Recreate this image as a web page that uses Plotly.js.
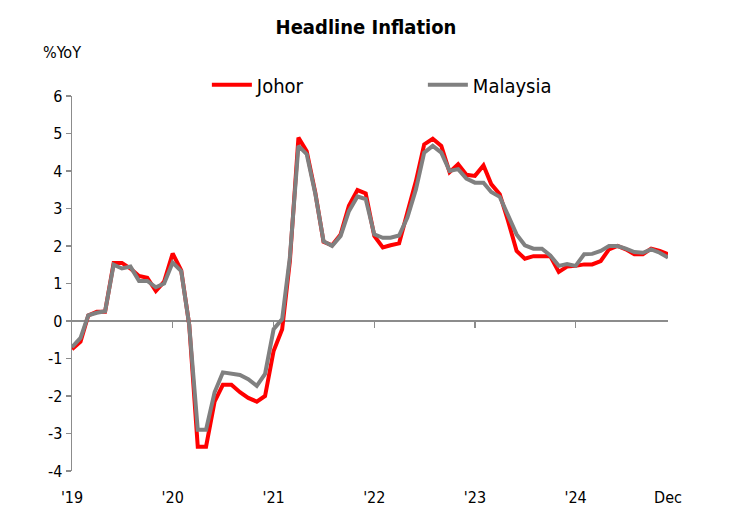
<!DOCTYPE html>
<html>
<head>
<meta charset="utf-8">
<script src="https://cdn.plot.ly/plotly-3.0.1.min.js"></script>
<style>
html,body{margin:0;padding:0;background:#fff;}
#chart{width:732px;height:519px;}
</style>
</head>
<body>
<div id="chart"></div>
<script>
// Monthly headline inflation, %YoY, Jan 2019 - Dec 2024
const years = [2019, 2020, 2021, 2022, 2023, 2024];
const johor = [
  -0.75, -0.55, 0.15, 0.25, 0.25, 1.55, 1.55, 1.4, 1.2, 1.15, 0.8, 1.05,
  1.8, 1.35, -0.1, -3.35, -3.35, -2.15, -1.7, -1.7, -1.9, -2.05, -2.15, -2.0,
  -0.8, -0.22, 1.6, 4.89, 4.53, 3.43, 2.11, 2.02, 2.31, 3.07, 3.49, 3.4,
  2.27, 1.96, 2.02, 2.07, 2.89, 3.73, 4.71, 4.86, 4.67, 3.97, 4.18, 3.9,
  3.87, 4.15, 3.65, 3.38, 2.67, 1.87, 1.66, 1.73, 1.73, 1.73, 1.31, 1.45,
  1.47, 1.51, 1.51, 1.6, 1.91, 2.0, 1.91, 1.78, 1.78, 1.93, 1.87, 1.78
];
const malaysia = [
  -0.7, -0.45, 0.15, 0.22, 0.26, 1.5, 1.4, 1.45, 1.07, 1.07, 0.9, 1.0,
  1.56, 1.33, -0.1, -2.9, -2.9, -1.9, -1.37, -1.41, -1.44, -1.55, -1.73, -1.41,
  -0.22, 0.05, 1.7, 4.67, 4.45, 3.4, 2.13, 2.0, 2.27, 2.93, 3.32, 3.25,
  2.31, 2.22, 2.22, 2.28, 2.76, 3.51, 4.49, 4.67, 4.49, 4.0, 4.05, 3.8,
  3.69, 3.69, 3.44, 3.31, 2.8, 2.31, 2.02, 1.93, 1.93, 1.75, 1.47, 1.52,
  1.47, 1.78, 1.79, 1.87, 2.0, 2.0, 1.93, 1.84, 1.82, 1.91, 1.82, 1.69
];
const xTickVals = ['2019-01-01','2020-01-01','2021-01-01','2022-01-01','2023-01-01','2024-01-01','2024-12-01'];
const xTickText = ["'19","'20","'21","'22","'23","'24","Dec"];
const yearTicks = ['2020-01-01','2021-01-01','2022-01-01','2023-01-01','2024-01-01'];
const yTickVals = [-4, -3, -2, -1, 0, 1, 2, 3, 4, 5, 6];
const yTickText = ['-4', '-3', '-2', '-1', '0', '1', '2', '3', '4', '5', '6'];

const months = [];
years.forEach(y => { for (let m = 1; m <= 12; m++) months.push(y + '-' + String(m).padStart(2,'0') + '-01'); });

const FONT = '"DejaVu Sans Condensed", "DejaVu Sans", sans-serif';
const AXC = '#8c8c8c';
const xr = [months[0], months[months.length-1]];

const traces = [
  {x: months, y: johor, name: 'Johor', type: 'scatter', mode: 'lines',
   line: {color: '#ff0000', width: 4}, xaxis: 'x', yaxis: 'y'},
  {x: months, y: malaysia, name: 'Malaysia', type: 'scatter', mode: 'lines',
   line: {color: '#808080', width: 4}, xaxis: 'x2', yaxis: 'y'}
];

const layout = {
  width: 732, height: 519,
  paper_bgcolor: '#fff', plot_bgcolor: '#fff',
  margin: {l: 72, r: 64, t: 96, b: 48},
  font: {family: FONT, color: '#000', size: 16},
  title: {text: '<b>Headline Inflation</b>', x: 0.5, xref: 'container', xanchor: 'center',
          y: 0.948, yref: 'container', yanchor: 'middle',
          font: {family: FONT, size: 20, color: '#000'}},
  xaxis: {type: 'date', range: xr, showline: false, showgrid: false, zeroline: false,
          ticks: '', tickmode: 'array', tickvals: xTickVals, ticktext: xTickText,
          ticklabelstandoff: 15, tickfont: {family: FONT, size: 16}},
  xaxis2: {type: 'date', range: xr, matches: 'x', overlaying: 'x', anchor: 'free', position: 0.4,
           showline: false, showgrid: false, zeroline: false, showticklabels: false,
           ticks: 'outside', ticklen: 6, tickwidth: 1.5, tickcolor: AXC,
           tickmode: 'array', tickvals: yearTicks},
  yaxis: {range: [-4, 6], tickmode: 'array', tickvals: yTickVals, ticktext: yTickText,
          showline: true, linecolor: AXC, linewidth: 1.5,
          ticks: 'outside', ticklen: 5, tickwidth: 1.5, tickcolor: AXC,
          showgrid: false, zeroline: true, zerolinecolor: AXC, zerolinewidth: 1.5,
          tickfont: {family: FONT, size: 16}},
  showlegend: true,
  legend: {orientation: 'h', x: 0.2263, xanchor: 'left', y: 1.03, yanchor: 'middle',
           font: {family: FONT, size: 20}, itemwidth: 40, entrywidth: 161,
           bgcolor: 'rgba(0,0,0,0)'},
  annotations: [
    {text: '%YoY', xref: 'paper', yref: 'paper', x: -0.052, y: 1.117, xanchor: 'left', yanchor: 'middle',
     showarrow: false, font: {family: FONT, size: 16, color: '#000'}}
  ]
};

Plotly.newPlot('chart', traces, layout, {displayModeBar: false, staticPlot: true});
</script>
</body>
</html>
